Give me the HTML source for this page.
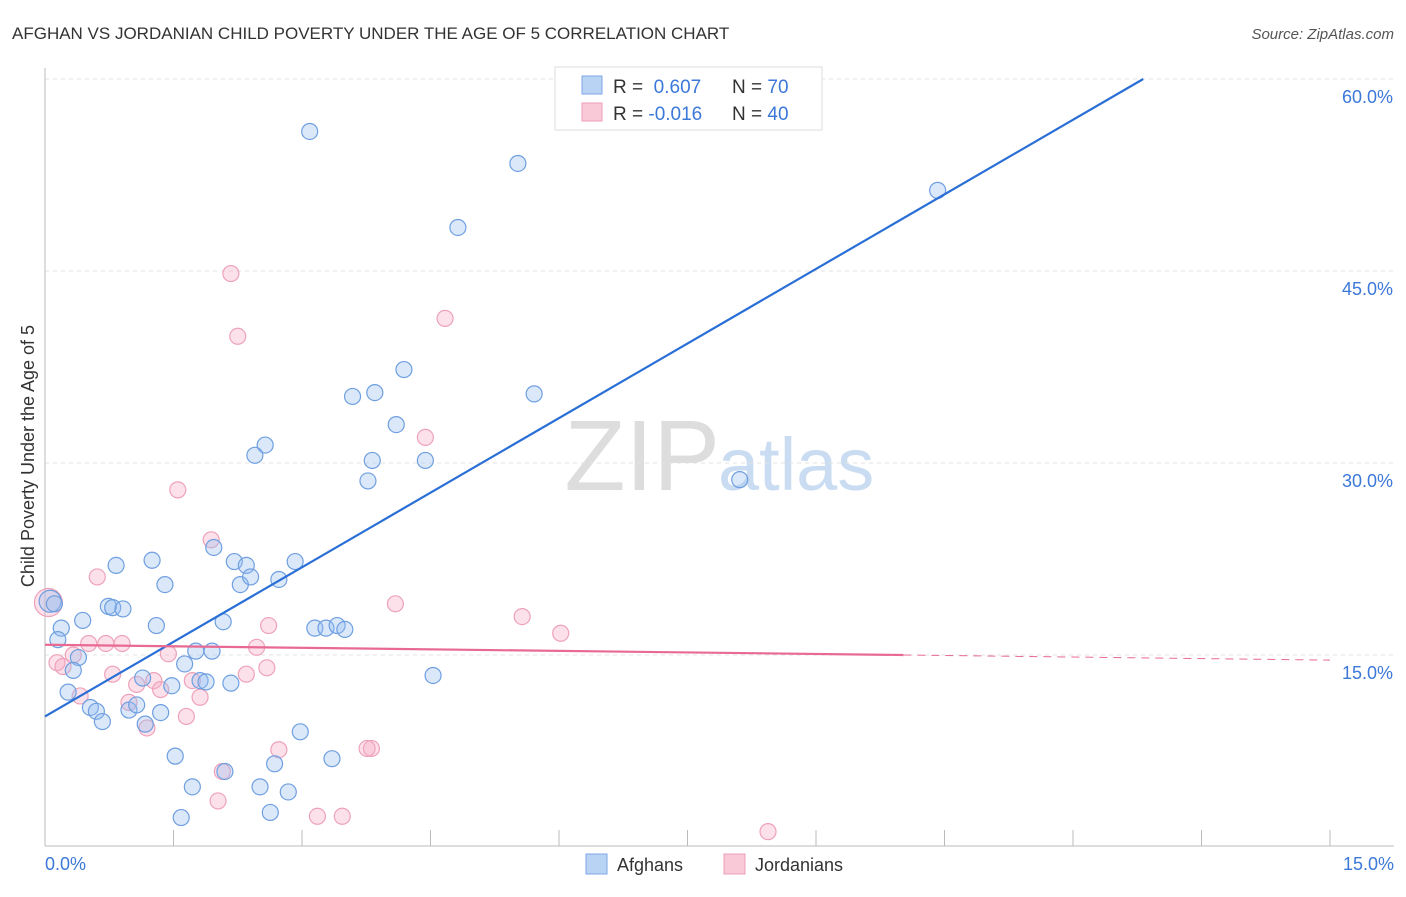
<!DOCTYPE html>
<html><head><meta charset="utf-8"><style>
body{margin:0;background:#fff;font-family:"Liberation Sans",sans-serif;}
svg text{font-family:"Liberation Sans",sans-serif;}
</style></head><body>
<svg id="c" width="1406" height="892">
<text x="12" y="39" font-size="17" fill="#333">AFGHAN VS JORDANIAN CHILD POVERTY UNDER THE AGE OF 5 CORRELATION CHART</text>
<text x="1394" y="39" font-size="15" fill="#555" text-anchor="end" font-style="italic">Source: ZipAtlas.com</text>
<text x="720" y="490" font-size="100" fill="#ddd" text-anchor="end" font-family="Liberation Serif">ZIP</text>
<text x="718" y="490" font-size="74" fill="#c9dcf2">atlas</text>
<g id="grid"></g><g id="axes"></g><g id="pts"></g><g id="lines"></g>
<text transform="translate(34,456) rotate(-90)" font-size="18" fill="#333" text-anchor="middle">Child Poverty Under the Age of 5</text>
<text x="45" y="870" font-size="18" fill="#3b78d8">0.0%</text>
<text x="1394" y="870" font-size="18" fill="#3b78d8" text-anchor="end">15.0%</text>
<g>
<rect x="555" y="67" width="267" height="63" fill="#fff" stroke="#ddd"/>
<rect x="582" y="76" width="20" height="18" fill="#b9d3f5" stroke="#7aa7e6"/>
<rect x="582" y="103" width="20" height="18" fill="#f9c9d8" stroke="#ee9fb8"/>
<text x="613" y="93" font-size="19" fill="#333">R = <tspan fill="#3b78d8">&#160;0.607</tspan><tspan x="732">N = </tspan><tspan fill="#3b78d8">70</tspan></text>
<text x="613" y="120" font-size="19" fill="#333">R = <tspan fill="#3b78d8">-0.016</tspan><tspan x="732">N = </tspan><tspan fill="#3b78d8">40</tspan></text>
</g>
<g>
<rect x="586" y="854" width="21" height="20" fill="#b9d3f5" stroke="#7aa7e6"/>
<text x="617" y="871" font-size="18" fill="#333">Afghans</text>
<rect x="724" y="854" width="21" height="20" fill="#f9c9d8" stroke="#ee9fb8"/>
<text x="755" y="871" font-size="18" fill="#333">Jordanians</text>
</g>
</svg>
<script>
const yTicks=[15,30,45,60];
const yTickLabels=["15.0%","30.0%","45.0%","60.0%"];
const xTicks=[0,1.5,3,4.5,6,7.5,9,10.5,12,13.5,15];
const afgX=[3.09,5.52,4.82,10.42,4.19,3.85,3.59,5.71,4.10,2.57,2.45,3.82,4.44,3.77,8.11,1.25,1.97,2.21,2.35,2.92,0.83,1.40,2.28,2.40,2.73,0.74,0.79,0.91,0.44,1.30,2.08,3.15,3.28,3.41,3.50,0.19,0.15,0.06,0.11,0.39,0.33,1.63,1.76,1.95,4.53,1.14,1.48,1.81,1.88,2.17,0.27,0.53,0.60,0.98,1.07,1.35,0.67,1.17,2.98,1.52,3.35,2.68,2.10,1.72,2.51,2.84,1.59,2.63];
const afgY=[55.9,53.4,48.4,51.3,37.3,35.5,35.2,35.4,33.0,31.4,30.6,30.2,30.2,28.6,28.7,22.4,23.4,22.3,22.0,22.3,22.0,20.5,20.5,21.1,20.9,18.8,18.7,18.6,17.7,17.3,17.6,17.1,17.1,17.3,17.0,17.1,16.2,19.2,19.0,14.8,13.8,14.3,15.3,15.3,13.4,13.2,12.6,13.0,12.9,12.8,12.1,10.9,10.6,10.7,11.1,10.5,9.8,9.6,9.0,7.1,6.9,6.5,5.9,4.7,4.7,4.3,2.3,2.7];
const jorX=[2.17,2.25,4.67,4.44,1.55,1.94,0.61,4.09,5.57,6.02,2.61,2.47,0.51,0.71,0.90,0.14,0.21,0.33,1.44,2.59,0.79,2.35,1.27,1.72,1.07,1.35,0.41,1.81,0.98,1.65,1.19,2.73,3.81,3.76,2.07,2.02,3.18,3.47,8.44,0.04];
const jorY=[44.8,39.9,41.3,32.0,27.9,24.0,21.1,19.0,18.0,16.7,17.3,15.6,15.9,15.9,15.9,14.4,14.1,15.0,15.1,14.0,13.5,13.5,13.0,13.0,12.7,12.3,11.8,11.7,11.3,10.2,9.3,7.6,7.7,7.7,5.9,3.6,2.4,2.4,1.2,19.1];
const afgTrend=[[0,10.2],[12.82,60]];
const jorTrend=[[0,15.8],[10.02,15.0],[15,14.6]];
const X=v=>45+v/15*1285, Y=v=>847-v*12.8;
const NS="http://www.w3.org/2000/svg";
function mk(p,t,a){const e=document.createElementNS(NS,t);for(const k in a)e.setAttribute(k,a[k]);document.getElementById(p).appendChild(e);return e;}
yTicks.forEach((t,i)=>{
 const g=mk('grid','line',{x1:45,x2:1394,y1:Y(t),y2:Y(t),stroke:'#e3e3e3','stroke-dasharray':'4,4'});
 
 
 const l=mk('grid','text',{x:1393,y:Y(t)+24,'font-size':18,fill:'#3b78d8','text-anchor':'end'});
 l.textContent=yTickLabels[i];
 
 
});
const ax=mk('axes','line',{x1:45,x2:1394,y1:846,y2:846,stroke:'#bbb'});


const ay=mk('axes','line',{x1:45,x2:45,y1:68,y2:846,stroke:'#bbb'});


xTicks.forEach(t=>{
 const k=mk('axes','line',{x1:X(t),x2:X(t),y1:830,y2:846,stroke:'#bbb'});
 
 
});
jorX.forEach((x,i)=>{
 const big=i===jorX.length-1;
 const c=mk('pts','circle',{cx:X(x),cy:Y(jorY[i]),r:big?14:8,fill:'rgba(246,170,195,0.35)',stroke:'#eea2ba','stroke-width':1.2});
 
 
});
afgX.forEach((x,i)=>{
 const c=mk('pts','circle',{cx:X(x),cy:Y(afgY[i]),r:(i===37)?11:8,fill:'rgba(150,190,240,0.35)',stroke:'#6f9fe0','stroke-width':1.2});
 
 
});
const bl=mk('lines','line',{x1:X(afgTrend[0][0]),y1:Y(afgTrend[0][1]),x2:X(afgTrend[1][0]),y2:Y(afgTrend[1][1]),stroke:'#2a6fd6','stroke-width':2.2});


const pl=mk('lines','line',{x1:X(jorTrend[0][0]),y1:Y(jorTrend[0][1]),x2:X(jorTrend[1][0]),y2:Y(jorTrend[1][1]),stroke:'#e86a92','stroke-width':2.2});


const pd=mk('lines','line',{x1:X(jorTrend[1][0]),y1:Y(jorTrend[1][1]),x2:X(jorTrend[2][0]),y2:Y(jorTrend[2][1]),stroke:'#e86a92','stroke-width':1,'stroke-dasharray':'8,6'});


</script>
</body></html>
